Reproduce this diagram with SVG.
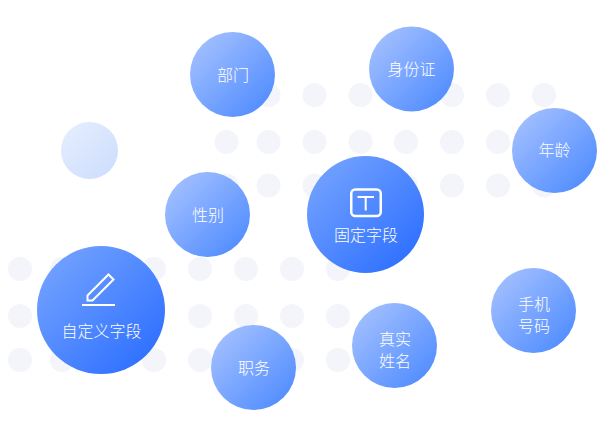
<svg xmlns="http://www.w3.org/2000/svg" width="600" height="440" viewBox="0 0 600 440">
<style>
.dot{fill:#f4f5fb}
.lbl{fill:#fff;font-family:"Noto Sans CJK SC","Noto Sans",sans-serif;font-size:16px;font-weight:300;text-anchor:middle}
.ic{fill:none;stroke:#fff}
</style>
<defs>
<linearGradient id="s" x1="0.15" y1="0.15" x2="0.85" y2="0.85"><stop offset="0" stop-color="#9dbcff"/><stop offset="1" stop-color="#5690ff"/></linearGradient>
<linearGradient id="b" x1="0.15" y1="0.15" x2="0.85" y2="0.85"><stop offset="0" stop-color="#6e9eff"/><stop offset="1" stop-color="#3273ff"/></linearGradient>
<linearGradient id="p" x1="0.15" y1="0.15" x2="0.85" y2="0.85"><stop offset="0" stop-color="#e3ecfe"/><stop offset="1" stop-color="#cfdffd"/></linearGradient>
</defs>
<g id="dots">
<circle class="dot" cx="268.500" cy="95" r="12"/><circle class="dot" cx="314.500" cy="95" r="12"/><circle class="dot" cx="360.500" cy="95" r="12"/><circle class="dot" cx="452" cy="95" r="12"/><circle class="dot" cx="498" cy="95" r="12"/><circle class="dot" cx="544" cy="95" r="12"/>
<circle class="dot" cx="226.500" cy="142" r="12"/><circle class="dot" cx="268.500" cy="142" r="12"/><circle class="dot" cx="314.500" cy="142" r="12"/><circle class="dot" cx="360.500" cy="142" r="12"/><circle class="dot" cx="406" cy="142" r="12"/><circle class="dot" cx="452" cy="142" r="12"/><circle class="dot" cx="498" cy="142" r="12"/>
<circle class="dot" cx="226.500" cy="185.500" r="12"/><circle class="dot" cx="268.500" cy="185.500" r="12"/><circle class="dot" cx="314.500" cy="185.500" r="12"/><circle class="dot" cx="406" cy="185.500" r="12"/><circle class="dot" cx="452" cy="185.500" r="12"/><circle class="dot" cx="498" cy="185.500" r="12"/><circle class="dot" cx="544" cy="185.500" r="12"/>
<circle class="dot" cx="20" cy="269" r="12"/><circle class="dot" cx="62" cy="269" r="12"/><circle class="dot" cx="154" cy="269" r="12"/><circle class="dot" cx="200" cy="269" r="12"/><circle class="dot" cx="246" cy="269" r="12"/><circle class="dot" cx="292" cy="269" r="12"/><circle class="dot" cx="338" cy="269" r="12"/>
<circle class="dot" cx="20" cy="316" r="12"/><circle class="dot" cx="200" cy="316" r="12"/><circle class="dot" cx="246" cy="316" r="12"/><circle class="dot" cx="292" cy="316" r="12"/><circle class="dot" cx="338" cy="316" r="12"/>
<circle class="dot" cx="20" cy="360" r="12"/><circle class="dot" cx="62" cy="360" r="12"/><circle class="dot" cx="154" cy="360" r="12"/><circle class="dot" cx="200" cy="360" r="12"/><circle class="dot" cx="292" cy="360" r="12"/><circle class="dot" cx="338" cy="360" r="12"/>
</g>
<g id="connectors"></g>
<g id="pale"><circle cx="89.500" cy="150.500" r="28.500" fill="url(#p)"/></g>
<g id="bumen"><circle cx="232.500" cy="74.500" r="42.500" fill="url(#s)"/><text class="lbl" x="233" y="80.500">部门</text></g>
<g id="shenfenzheng"><circle cx="411.500" cy="69" r="42.500" fill="url(#s)"/><text class="lbl" x="411.500" y="75">身份证</text></g>
<g id="nianling"><circle cx="554.500" cy="150.500" r="42.500" fill="url(#s)"/><text class="lbl" x="554.500" y="156">年龄</text></g>
<g id="xingbie"><circle cx="207.500" cy="214.500" r="42.500" fill="url(#s)"/><text class="lbl" x="208" y="220.500">性别</text></g>
<g id="guding"><circle cx="365.500" cy="214.500" r="58.500" fill="url(#b)"/>
<rect class="ic" x="351.250" y="189.500" width="29.500" height="26.500" rx="4" stroke-width="2.500"/>
<path class="ic" d="M357.500 197H374M365.700 197V210.500" stroke-width="2"/>
<text class="lbl" x="366" y="241">固定字段</text></g>
<g id="zidingyi"><circle cx="101" cy="310" r="64" fill="url(#b)"/>
<path class="ic" d="M87.500 295.500L108.500 274.500L113.500 279.500L92.500 300.500H87.500Z" stroke-width="2"/>
<path class="ic" d="M82 305H115" stroke-width="2"/>
<text class="lbl" x="101.500" y="337">自定义字段</text></g>
<g id="zhiwu"><circle cx="253.500" cy="367.500" r="42.500" fill="url(#s)"/><text class="lbl" x="254" y="374">职务</text></g>
<g id="xingming"><circle cx="394.500" cy="345.500" r="42.500" fill="url(#s)"/><text class="lbl" x="395" y="345">真实</text><text class="lbl" x="395" y="367">姓名</text></g>
<g id="shouji"><circle cx="533.500" cy="310.500" r="42.500" fill="url(#s)"/><text class="lbl" x="534" y="310">手机</text><text class="lbl" x="534" y="332">号码</text></g>
</svg>
